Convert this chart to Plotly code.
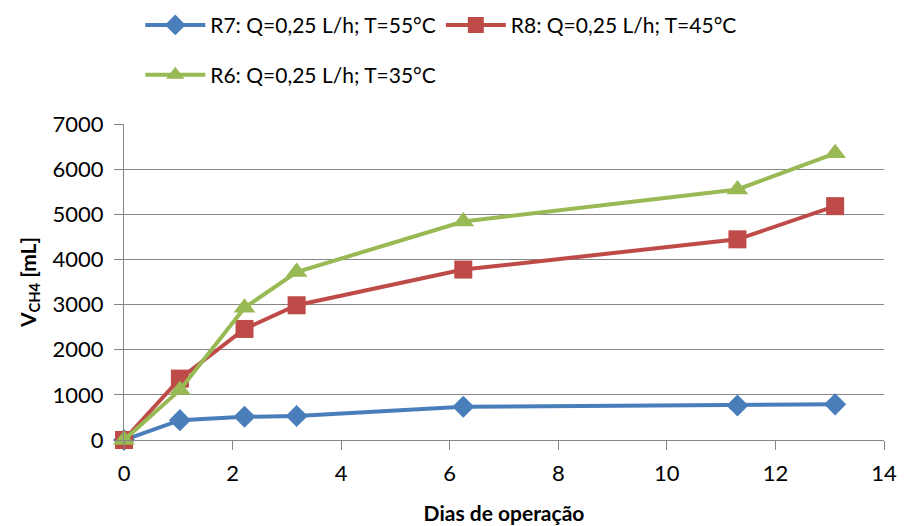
import plotly.graph_objects as go

# Dias de operação (x) e volume acumulado de CH4 (mL) por reator
dias_r7 = [0, 1.03, 2.22, 3.18, 6.25, 11.3, 13.1]
vol_r7 = [0, 440, 515, 530, 735, 765, 790]

dias_r8 = [0, 1.03, 2.22, 3.18, 6.25, 11.3, 13.1]
vol_r8 = [0, 1360, 2460, 2985, 3775, 4445, 5180]

dias_r6 = [0, 1.03, 2.22, 3.18, 6.25, 11.3, 13.1]
vol_r6 = [0, 1110, 2930, 3720, 4840, 5550, 6350]

nomes = ["R7: Q=0,25 L/h; T=55°C", "R8: Q=0,25 L/h; T=45°C", "R6: Q=0,25 L/h; T=35°C"]
cores = ["#4A7EBB", "#BE4B48", "#98B954"]
simbolos = ["diamond", "square", "triangle-up"]
tamanhos = [17, 18, 19]

FONTE = "Lato, 'Open Sans', sans-serif"

fig = go.Figure()
series = [(dias_r7, vol_r7), (dias_r8, vol_r8), (dias_r6, vol_r6)]
legendas = ["legend", "legend", "legend2"]
for (xs, ys), nome, cor, simb, tam, leg in zip(series, nomes, cores, simbolos, tamanhos, legendas):
    fig.add_trace(go.Scatter(
        x=xs, y=ys, name=nome, mode="lines+markers",
        line=dict(color=cor, width=4),
        marker=dict(symbol=simb, size=tam, color=cor),
        cliponaxis=False, legend=leg,
    ))

fig.update_layout(
    width=905, height=526,
    margin=dict(l=124, r=21, t=124, b=86),
    paper_bgcolor="white", plot_bgcolor="white",
    font=dict(family=FONTE, size=22, color="#000000"),
    legend=dict(orientation="h", xref="container", yref="container",
                x=0.155, y=0.952, xanchor="left", yanchor="middle",
                itemwidth=60, font=dict(size=21), bgcolor="rgba(0,0,0,0)",
                traceorder="normal"),
    legend2=dict(orientation="h", xref="container", yref="container",
                 x=0.155, y=0.857, xanchor="left", yanchor="middle",
                 itemwidth=60, font=dict(size=21), bgcolor="rgba(0,0,0,0)"),
    xaxis=dict(
        range=[0, 14], dtick=2, showgrid=False, zeroline=False, automargin=False,
        showline=True, linecolor="#868686", linewidth=1,
        ticks="outside", ticklen=9, tickcolor="#868686",
        ticklabelstandoff=5,
        title=dict(text="<b>Dias de operação</b>", font=dict(size=21), standoff=20),
    ),
    yaxis=dict(
        range=[0, 7000], dtick=1000, showgrid=True, gridcolor="#868686", gridwidth=1,
        zeroline=False, showline=True, linecolor="#868686", linewidth=1, automargin=False,
        ticks="outside", ticklen=9, tickcolor="#868686",
        ticklabelstandoff=6,
        title=dict(text="<b>V<sub>CH4</sub> [mL]</b>", font=dict(size=21), standoff=10),
    ),
)

fig.write_html("out.html")
